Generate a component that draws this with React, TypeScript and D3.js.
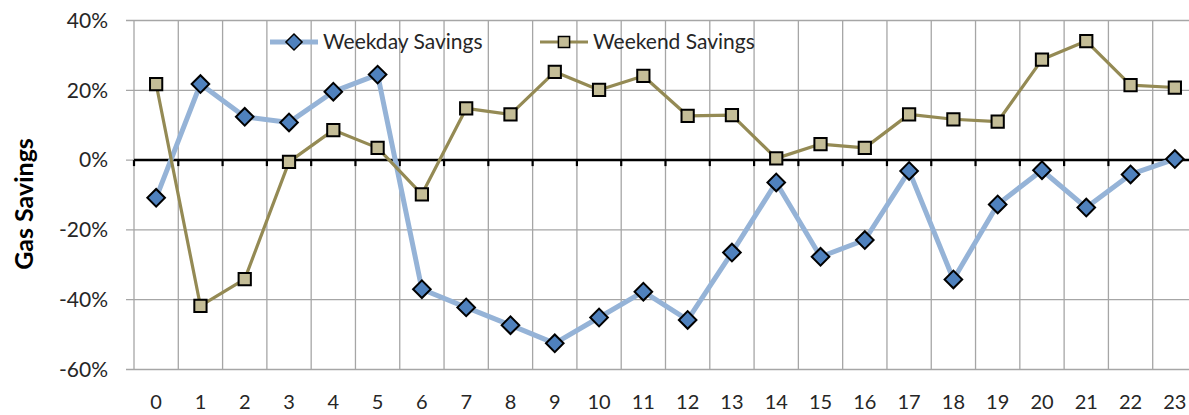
import React from "react";
import * as d3 from "d3";

const hours = d3.range(0, 24).map(String);
const weekdaySavings = [
  -10.8, 21.8, 12.4, 10.8, 19.6, 24.5, -37.0, -42.2, -47.3, -52.5, -45.1, -37.7,
  -45.8, -26.5, -6.4, -27.7, -22.9, -3.1, -34.2, -12.7, -2.9, -13.6, -4.1, 0.3,
];
const weekendSavings = [
  21.8, -41.8, -34.1, -0.5, 8.6, 3.5, -9.8, 14.8, 13.1, 25.3, 20.1, 24.1,
  12.7, 12.9, 0.5, 4.6, 3.5, 13.1, 11.7, 11.0, 28.8, 34.1, 21.5, 20.8,
];
const yTicks = [40, 20, 0, -20, -40, -60];

const W = 1189;
const H = 415;
const margin = { left: 134, top: 20.5, right: -8, bottom: 45.5 };
const font = "Lato, 'Open Sans', sans-serif";

const App = () => {
  const svgRef = React.useRef<SVGSVGElement>(null);

  React.useEffect(() => {
    const innerW = W - margin.left - margin.right;
    const innerH = H - margin.top - margin.bottom;
    const x = d3.scaleBand().domain(hours).range([0, innerW]);
    const y = d3.scaleLinear().domain([-60, 40]).range([innerH, 0]);
    const cx = (i: number) => (x(hours[i]) as number) + x.bandwidth() / 2;

    const svgEl = d3.select(svgRef.current);
    svgEl.selectAll("*").remove();
    const svg = svgEl.append("g").attr("transform", `translate(${margin.left},${margin.top})`);

    // horizontal grid
    svg.append("g")
      .selectAll("line")
      .data(yTicks)
      .join("line")
      .attr("x1", -8)
      .attr("x2", innerW)
      .attr("y1", (d) => y(d))
      .attr("y2", (d) => y(d))
      .attr("stroke", "#a6a6a6")
      .attr("stroke-width", 1.3);

    // vertical grid at category boundaries
    const bounds = d3.range(0, 25).map((i) => i * x.step());
    svg.append("g")
      .selectAll("line")
      .data(bounds)
      .join("line")
      .attr("x1", (d) => d)
      .attr("x2", (d) => d)
      .attr("y1", 0)
      .attr("y2", innerH)
      .attr("stroke", "#a6a6a6")
      .attr("stroke-width", 1.3);

    // y labels
    svg.append("g")
      .selectAll("text")
      .data(yTicks)
      .join("text")
      .attr("x", -26)
      .attr("y", (d) => y(d))
      .attr("dy", "0.35em")
      .attr("text-anchor", "end")
      .attr("font-family", font)
      .attr("font-size", 21)
      .attr("fill", "#262626")
      .text((d) => `${d}%`);

    // x labels
    svg.append("g")
      .selectAll("text")
      .data(hours)
      .join("text")
      .attr("x", (d, i) => cx(i))
      .attr("y", innerH + 32)
      .attr("dy", "0.35em")
      .attr("text-anchor", "middle")
      .attr("font-family", font)
      .attr("font-size", 20)
      .attr("fill", "#262626")
      .text((d) => d);

    // zero axis with ticks
    svg.append("line")
      .attr("x1", 0)
      .attr("x2", innerW)
      .attr("y1", y(0))
      .attr("y2", y(0))
      .attr("stroke", "#000")
      .attr("stroke-width", 2.5);
    svg.append("g")
      .selectAll("line")
      .data(bounds)
      .join("line")
      .attr("x1", (d) => d)
      .attr("x2", (d) => d)
      .attr("y1", y(0))
      .attr("y2", y(0) + 6)
      .attr("stroke", "#000")
      .attr("stroke-width", 2.2);

    // y title
    svg.append("text")
      .attr("transform", `translate(${24 - margin.left},${204 - margin.top}) rotate(-90)`)
      .attr("text-anchor", "middle")
      .attr("dy", "0.35em")
      .attr("font-family", font)
      .attr("font-size", 25)
      .attr("font-weight", "bold")
      .attr("fill", "#000")
      .text("Gas Savings");

    const line = d3.line<number>()
      .x((d, i) => cx(i))
      .y((d) => y(d));
    const diamond = d3.symbol().type(d3.symbolSquare).size(155);
    const square = d3.symbol().type(d3.symbolSquare).size(150);

    // weekday series
    svg.append("path")
      .attr("d", line(weekdaySavings))
      .attr("fill", "none")
      .attr("stroke", "#95b3d7")
      .attr("stroke-width", 5)
      .attr("stroke-linejoin", "round");
    svg.append("g")
      .selectAll("path")
      .data(weekdaySavings)
      .join("path")
      .attr("d", diamond)
      .attr("transform", (d, i) => `translate(${cx(i)},${y(d)}) rotate(45)`)
      .attr("fill", "#4f81bd")
      .attr("stroke", "#000")
      .attr("stroke-width", 2);

    // weekend series
    svg.append("path")
      .attr("d", line(weekendSavings))
      .attr("fill", "none")
      .attr("stroke", "#948a54")
      .attr("stroke-width", 3.2)
      .attr("stroke-linejoin", "round");
    svg.append("g")
      .selectAll("path")
      .data(weekendSavings)
      .join("path")
      .attr("d", square)
      .attr("transform", (d, i) => `translate(${cx(i)},${y(d)})`)
      .attr("fill", "#c4bd97")
      .attr("stroke", "#000")
      .attr("stroke-width", 2);

    // legend
    const legend = [
      { label: "Weekday Savings", x0: 270, color: "#95b3d7", width: 5, marker: "diamond", fill: "#4f81bd" },
      { label: "Weekend Savings", x0: 540, color: "#948a54", width: 3.2, marker: "square", fill: "#c4bd97" },
    ];
    const lg = svgEl.append("g");
    legend.forEach((l) => {
      const ly = 42;
      lg.append("line")
        .attr("x1", l.x0)
        .attr("x2", l.x0 + 48)
        .attr("y1", ly)
        .attr("y2", ly)
        .attr("stroke", l.color)
        .attr("stroke-width", l.width);
      lg.append("path")
        .attr("d", d3.symbol().type(d3.symbolSquare).size(l.marker === "diamond" ? 130 : 125)())
        .attr("transform", `translate(${l.x0 + 24},${ly})${l.marker === "diamond" ? " rotate(45)" : ""}`)
        .attr("fill", l.fill)
        .attr("stroke", "#000")
        .attr("stroke-width", 1.5);
      lg.append("text")
        .attr("x", l.x0 + 53)
        .attr("y", ly)
        .attr("dy", "0.35em")
        .attr("font-family", font)
        .attr("font-size", 21)
        .attr("fill", "#262626")
        .text(l.label);
    });
  }, []);

  return (
    <svg
      ref={svgRef}
      width={W}
      height={H}
      style={{ position: "absolute", left: 0, top: 0, background: "#fff" }}
    />
  );
};

export default App;
